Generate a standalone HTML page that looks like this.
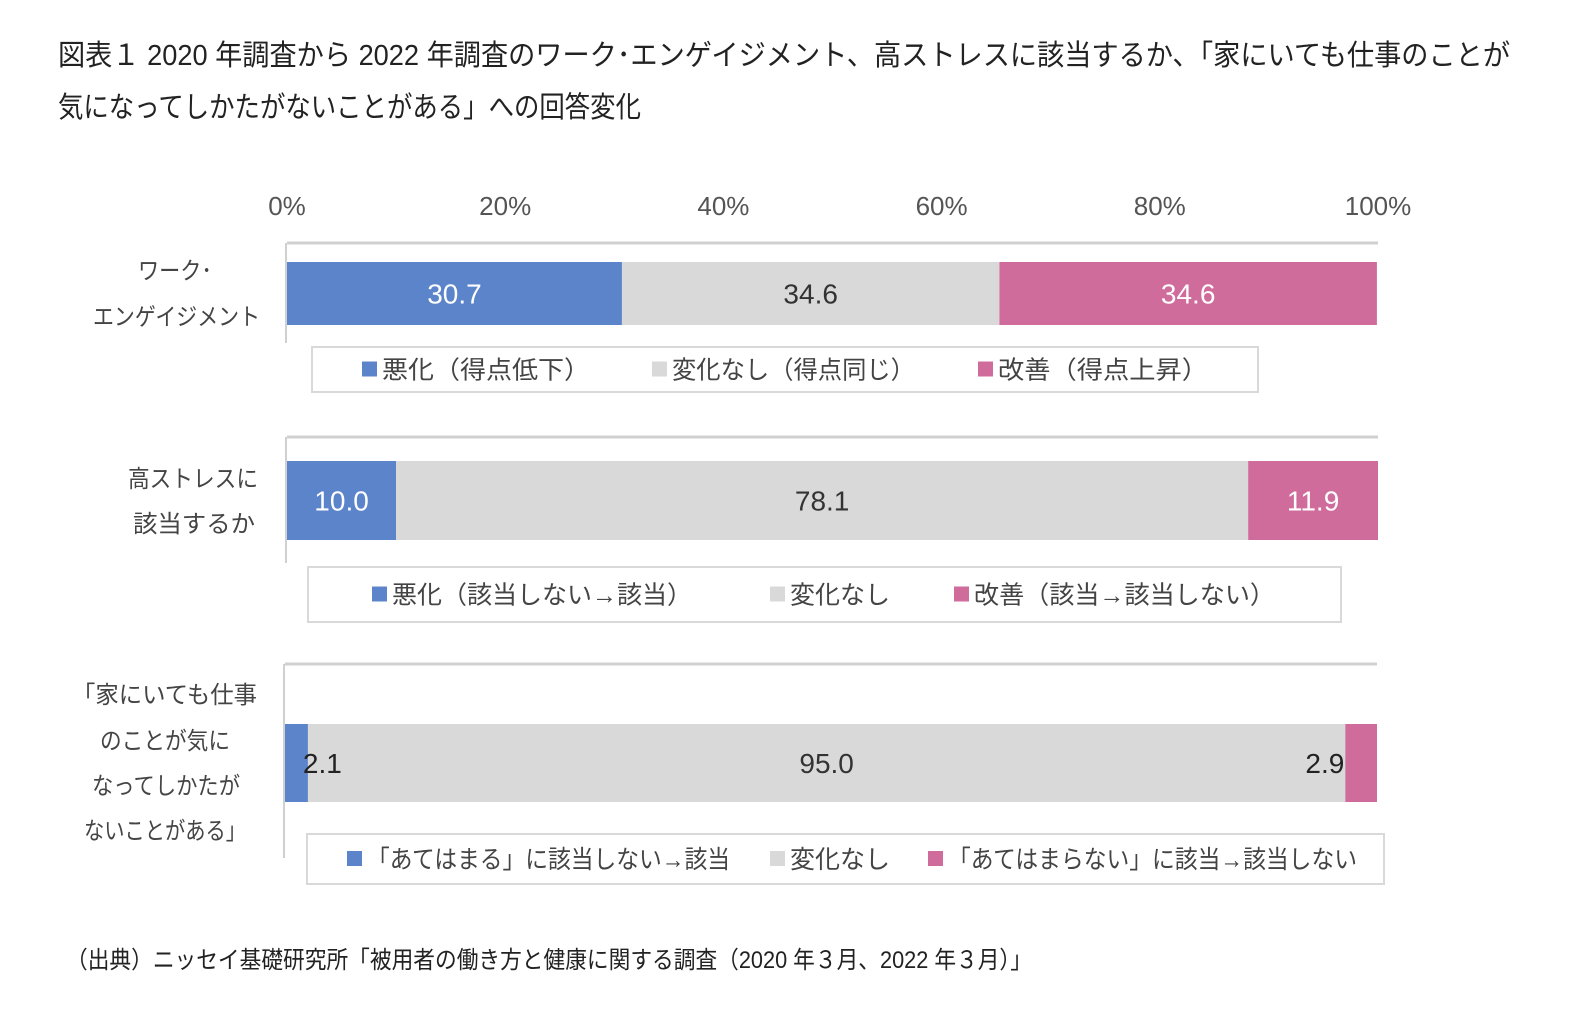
<!DOCTYPE html>
<html><head><meta charset="utf-8"><style>
body{margin:0;background:#fff;width:1573px;height:1010px;overflow:hidden;font-family:"Liberation Sans","Noto Sans CJK JP",sans-serif;}
svg text{font-family:"Liberation Sans","Noto Sans CJK JP",sans-serif;}
</style></head><body>
<svg id="c" width="1573" height="1010">
<text x="58" y="65" font-size="29" fill="#222" textLength="1452" lengthAdjust="spacingAndGlyphs">図表１  2020 年調査から 2022 年調査のワーク･エンゲイジメント、高ストレスに該当するか、「家にいても仕事のことが</text>
<text x="58" y="117" font-size="29" fill="#222" textLength="583" lengthAdjust="spacingAndGlyphs">気になってしかたがないことがある」への回答変化</text>
<text x="66" y="968" font-size="24" fill="#222" textLength="966" lengthAdjust="spacingAndGlyphs">（出典）ニッセイ基礎研究所「被用者の働き方と健康に関する調査（2020 年３月、2022 年３月）」</text>
<g id="g"></g>
</svg>
<script>
const ticks=["0%","20%","40%","60%","80%","100%"];
const categories=[["ワーク･","エンゲイジメント"],["高ストレスに","該当するか"],["「家にいても仕事","のことが気に","なってしかたが","ないことがある」"]];
const worse=[30.7,10.0,2.1];
const same=[34.6,78.1,95.0];
const better=[34.6,11.9,2.9];
const legends=[["悪化（得点低下）","変化なし（得点同じ）","改善（得点上昇）"],["悪化（該当しない→該当）","変化なし","改善（該当→該当しない）"],["「あてはまる」に該当しない→該当","変化なし","「あてはまらない」に該当→該当しない"]];
const colors=["#5b84cb","#d9d9d9","#cf6c9c"];
const panels=[{x0:287,x1:1378,axis:243,vb:343,by:262,bh:63,lx:312,lw:946,ly:347,lh:45,lab:[270,316],lpos:[362,652,978],lend:[590,915,1208],labL:[[138,212],[93,260]]},
{x0:287,x1:1378,axis:437,vb:563,by:461,bh:79,lx:308,lw:1033,ly:567,lh:55,lab:[478,523],lpos:[372,770,954],lend:[692,890,1275],labL:[[128,258],[133,255]]},
{x0:285,x1:1377,axis:664,vb:858,by:724,bh:78,lx:307,lw:1077,ly:834,lh:50,lab:[694,740,785,830],lpos:[347,770,928],lend:[730,890,1357],labL:[[72,257],[100,230],[92,240],[84,246]]}];
const g=document.getElementById('g');const NS="http://www.w3.org/2000/svg";
function mk(t,a,p){const e=document.createElementNS(NS,t);for(const k in a)e.setAttribute(k,a[k]);(p||g).appendChild(e);return e;}
const sx=(p,v)=>p.x0+(p.x1-p.x0)*v/100;
ticks.forEach((t,i)=>{const e=mk('text',{x:sx(panels[0],i*20),y:215,'font-size':26,fill:'#555','text-anchor':'middle'});e.textContent=t;

});
panels.forEach((p,i)=>{
 const ax=mk('line',{x1:p.x0,x2:p.x1,y1:p.axis,y2:p.axis,stroke:'#d0d0d0','stroke-width':3});
 
 
 const vl=mk('line',{x1:p.x0-1,x2:p.x0-1,y1:p.axis,y2:p.vb,stroke:'#d0d0d0','stroke-width':2});
 
 
 categories[i].forEach((l,j)=>{const L=p.labL[j];const e=mk('text',{x:L[0],y:p.lab[j]+9,'font-size':24,fill:'#444',textLength:L[1]-L[0],lengthAdjust:'spacingAndGlyphs'});e.textContent=l;
 
 });
 const vals=[worse[i],same[i],better[i]];let acc=0;const labels=[];
 vals.forEach((v,k)=>{const x=sx(p,acc),w=sx(p,acc+v)-x;
  const r=mk('rect',{x:x,y:p.by,width:w,height:p.bh,fill:colors[k]});
  
  
  let tx=x+w/2,anchor='middle',col=k==1?'#333':'#fff';
  if(w<40){col='#222';if(k==0){tx=x+w-5;anchor='start';}else{tx=x-1;anchor='end';}}
  labels.push([tx,anchor,col,v]);
  acc+=v;});
 labels.forEach(([tx,anchor,col,v])=>{
  const t=mk('text',{x:tx,y:p.by+p.bh/2+10,'font-size':28,fill:col,'text-anchor':anchor});t.textContent=v.toFixed(1);
  
  });
 const lb=mk('rect',{x:p.lx,y:p.ly,width:p.lw,height:p.lh,fill:'#fff',stroke:'#d9d9d9','stroke-width':2});
 
 
 legends[i].forEach((l,k)=>{const cy=p.ly+p.lh/2;
  const s=mk('rect',{x:p.lpos[k],y:cy-8,width:15,height:15,fill:colors[k]});
  
  
  const t=mk('text',{x:p.lpos[k]+20,y:cy+9,'font-size':25,fill:'#444',textLength:p.lend[k]-p.lpos[k]-20,lengthAdjust:'spacingAndGlyphs'});t.textContent=l;
  
  });
});
</script>
</body></html>
